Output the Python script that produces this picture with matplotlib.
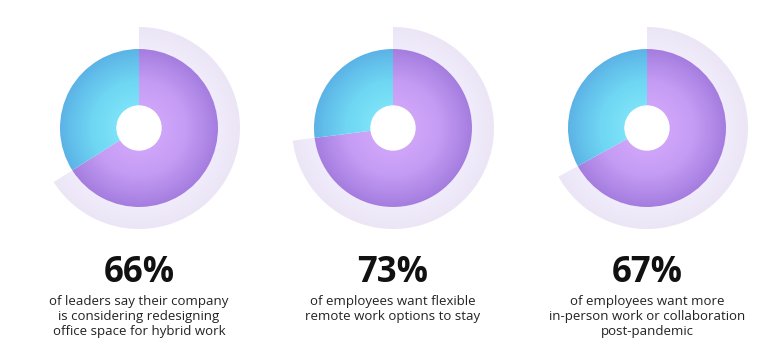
import numpy as np
import matplotlib
matplotlib.use("Agg")
import matplotlib.pyplot as plt
from matplotlib.patches import Wedge, Circle
from matplotlib.colors import LinearSegmentedColormap

# chart data
percents = [66, 73, 67]
labels = ["66%", "73%", "67%"]
captions = [
    "of leaders say their company\nis considering redesigning\noffice space for hybrid work",
    "of employees want flexible\nremote work options to stay",
    "of employees want more\nin-person work or collaboration\npost-pandemic",
]

W, H = 765, 360
centers_x = [139, 393, 647]
center_y = H - 128
r_pie = 79
r_outer = 101
r_hole = 22

purple = LinearSegmentedColormap.from_list("purple", ["#d2a8fa", "#c49cf4", "#a57ddf"])
blue = LinearSegmentedColormap.from_list("blue", ["#80e6fa", "#6fd6f3", "#5cb3e6"])
ring = LinearSegmentedColormap.from_list("ring", ["#f1ecfb", "#ebe5f5"])

fig = plt.figure(figsize=(W / 100, H / 100), dpi=100)
ax = fig.add_axes([0, 0, 1, 1])
ax.set_xlim(0, W)
ax.set_ylim(0, H)
ax.set_aspect("equal")
ax.axis("off")


def radial_fill(cx, cy, rmax, cmap, patch, vmin=0.2):
    n = 300
    xs = np.linspace(cx - rmax, cx + rmax, n)
    ys = np.linspace(cy - rmax, cy + rmax, n)
    X, Y = np.meshgrid(xs, ys)
    R = np.hypot(X - cx, Y - cy) / rmax
    im = ax.imshow(R, cmap=cmap, vmin=vmin, vmax=1.0, origin="lower",
                   extent=(cx - rmax, cx + rmax, cy - rmax, cy + rmax),
                   interpolation="bilinear", zorder=2)
    ax.add_patch(patch)
    patch.set_visible(False)
    im.set_clip_path(patch)


for cx, pct, lab, cap in zip(centers_x, percents, labels, captions):
    ang = pct * 3.6
    # outer light ring, clockwise from 12 o'clock
    w_ring = Wedge((cx, center_y), r_outer, 90 - ang, 90, width=r_outer - r_pie)
    radial_fill(cx, center_y, r_outer, ring, w_ring, vmin=0.78)
    # main share (purple) and remainder (blue)
    w_p = Wedge((cx, center_y), r_pie, 90 - ang, 90)
    radial_fill(cx, center_y, r_pie, purple, w_p)
    w_b = Wedge((cx, center_y), r_pie, 90, 450 - ang)
    radial_fill(cx, center_y, r_pie, blue, w_b)
    ax.add_patch(Circle((cx, center_y), r_hole, color="white", zorder=5))

    ax.text(cx, H - 273, lab, ha="center", va="center", fontsize=25,
            fontweight="bold", family="Open Sans", color="#111111")
    ax.text(cx, H - 295, cap, ha="center", va="top", fontsize=9.5,
            family="Open Sans", color="#222222", linespacing=1.2)

fig.savefig("out.png", dpi=100, facecolor="white")
